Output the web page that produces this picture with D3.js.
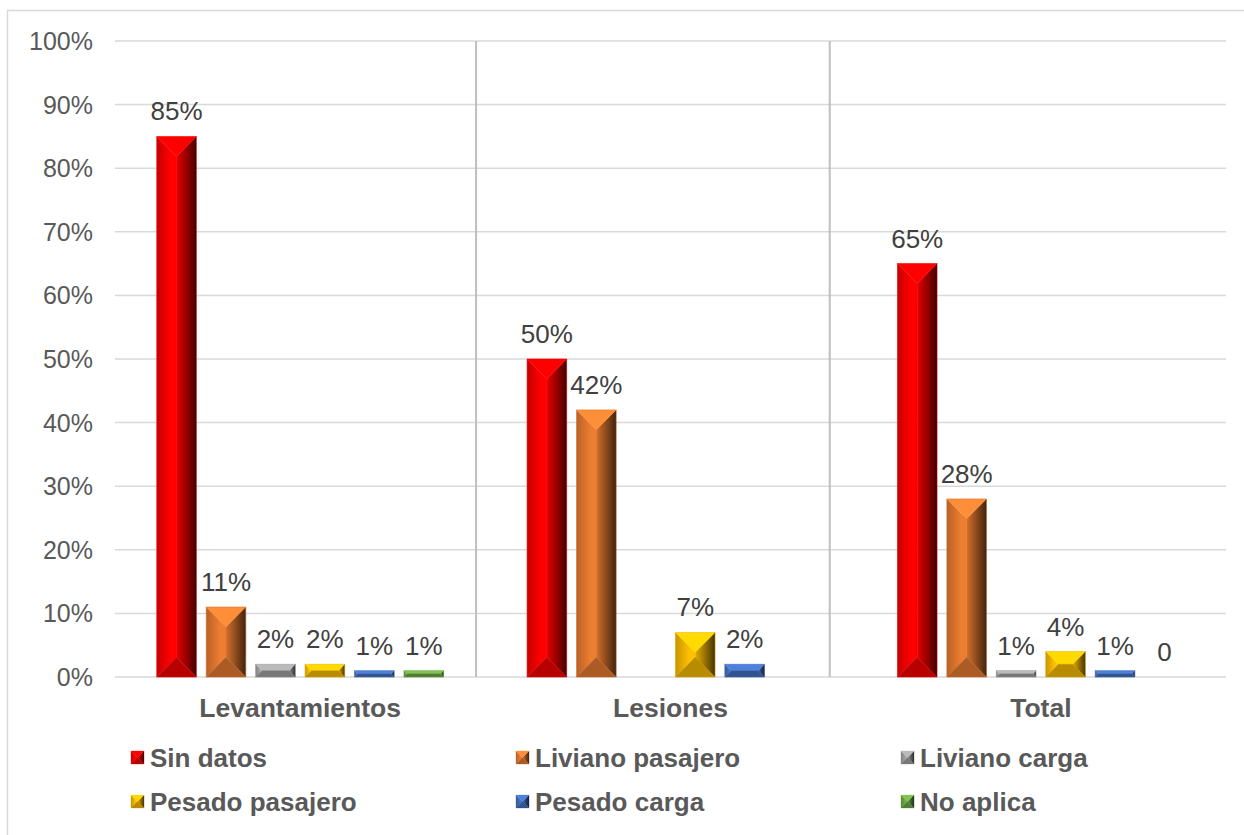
<!DOCTYPE html>
<meta charset="utf-8">
<style>
body { margin: 0; background: #fff; }
text { font-family: "Liberation Sans", Arial, sans-serif; }
</style>
<body>
<svg width="1244" height="835"></svg>
<script src="https://d3js.org/d3.v7.min.js"></script>
<script>

// data
var categories = ["Levantamientos", "Lesiones", "Total"];
var series = ["Sin datos", "Liviano pasajero", "Liviano carga", "Pesado pasajero", "Pesado carga", "No aplica"];
var colors = ["#ff0000", "#ed7d31", "#a5a5a5", "#ffc000", "#4472c4", "#70ad47"];
var levantamientos = [85, 11, 2, 2, 1, 1];
var lesiones = [50, 42, 0, 7, 2, 0];
var total = [65, 28, 1, 4, 1, 0];
var labelsLev = ["85%", "11%", "2%", "2%", "1%", "1%"];
var labelsLes = ["50%", "42%", null, "7%", "2%", null];
var labelsTot = ["65%", "28%", "1%", "4%", "1%", "0"];
var yTicks = [0, 10, 20, 30, 40, 50, 60, 70, 80, 90, 100];

var values = [levantamientos, lesiones, total];
var labels = [labelsLev, labelsLes, labelsTot];

var svg = d3.select("svg");
var defs = svg.append("defs");

// chart border
svg.append("rect")
    .attr("x", 7.5).attr("y", 10.5)
    .attr("width", 1260).attr("height", 850)
    .attr("fill", "none")
    .attr("stroke", "#d9d9d9")
    .attr("stroke-width", 1.5);

var x0 = d3.scaleBand().domain(categories).range([115, 1226]).padding(0);
var x1 = d3.scaleBand().domain(series).range([0, x0.bandwidth()])
    .paddingInner(0.2).paddingOuter(0.845);
var y = d3.scaleLinear().domain([0, 100]).range([677, 41]);

// gridlines
svg.append("g").selectAll("line")
  .data(yTicks)
  .enter().append("line")
    .attr("x1", 115).attr("x2", 1226)
    .attr("y1", function(d) { return y(d); })
    .attr("y2", function(d) { return y(d); })
    .attr("stroke", "#d9d9d9")
    .attr("stroke-width", 1.5);

// y labels
svg.append("g").selectAll("text")
  .data(yTicks)
  .enter().append("text")
    .attr("x", 93)
    .attr("y", function(d) { return y(d) + 9; })
    .attr("text-anchor", "end")
    .attr("font-size", "25px")
    .attr("fill", "#595959")
    .text(function(d) { return d + "%"; });

// vertical dividers (positions)
var xd = d3.scaleLinear().domain([0, 3]).range([115, 1226]);
svg.append("g").selectAll("line")
  .data([0.975, 1.93])
  .enter().append("line")
    .attr("x1", function(d) { return xd(d); })
    .attr("x2", function(d) { return xd(d); })
    .attr("y1", y(100)).attr("y2", y(0))
    .attr("stroke", "#bfbfbf")
    .attr("stroke-width", 2);

// gradients per series
colors.forEach(function(c, i) {
  var base = d3.color(c);
  var gl = defs.append("linearGradient").attr("id", "gl" + i)
      .attr("x1", 0).attr("x2", 1).attr("y1", 0).attr("y2", 0);
  gl.append("stop").attr("offset", "0%").attr("stop-color", base.darker(0.7));
  gl.append("stop").attr("offset", "70%").attr("stop-color", base);
  gl.append("stop").attr("offset", "100%").attr("stop-color", base);
  var gr = defs.append("linearGradient").attr("id", "gr" + i)
      .attr("x1", 0).attr("x2", 1).attr("y1", 0).attr("y2", 0);
  gr.append("stop").attr("offset", "0%").attr("stop-color", base.darker(0.3));
  gr.append("stop").attr("offset", "100%").attr("stop-color", base.darker(3.6));
});

function bevelBar(g, x, yTop, w, h, i, outline) {
  if (h <= 0) return;
  var base = d3.color(colors[i]);
  var b = Math.min(w / 2, h / 2);
  var x2 = x + w, yb = yTop + h;
  var faces = [
    // left
    { p: [[x, yTop], [x + b, yTop + b], [x + b, yb - b], [x, yb]], f: "url(#gl" + i + ")" },
    // right
    { p: [[x2, yTop], [x2 - b, yTop + b], [x2 - b, yb - b], [x2, yb]], f: "url(#gr" + i + ")" },
    // middle
    { p: [[x + b, yTop + b], [x2 - b, yTop + b], [x2 - b, yb - b], [x + b, yb - b]], f: base.toString() },
    // top
    { p: [[x, yTop], [x2, yTop], [x2 - b, yTop + b], [x + b, yTop + b]], f: base.brighter(0.35).toString() },
    // bottom
    { p: [[x, yb], [x2, yb], [x2 - b, yb - b], [x + b, yb - b]], f: base.darker(0.9).toString() }
  ];
  faces.forEach(function(fc) {
    g.append("polygon")
      .attr("points", fc.p.map(function(pt) { return pt.join(","); }).join(" "))
      .attr("fill", fc.f)
      .attr("stroke", fc.f)
      .attr("stroke-width", 0.3);
  });
  if (outline) {
    g.append("rect").attr("x", x).attr("y", yTop).attr("width", w).attr("height", h)
      .attr("fill", "none").attr("stroke", base.darker(0.3)).attr("stroke-width", 0.8).attr("stroke-opacity", 0.5);
  }
}

// bars
var bars = svg.append("g");
categories.forEach(function(cat, ci) {
  series.forEach(function(s, si) {
    var v = values[ci][si];
    var bx = x0(cat) + x1(s);
    bevelBar(bars, bx, y(v), x1.bandwidth(), y(0) - y(v), si, true);
    if (labels[ci][si] !== null) {
      bars.append("text")
        .attr("x", bx + x1.bandwidth() / 2)
        .attr("y", y(v) - 16)
        .attr("text-anchor", "middle")
        .attr("font-size", "26px")
        .attr("fill", "#404040")
        .text(labels[ci][si]);
    }
  });
});

// category labels
svg.append("g").selectAll("text")
  .data(categories)
  .enter().append("text")
    .attr("x", function(d) { return x0(d) + x0.bandwidth() / 2; })
    .attr("y", 717)
    .attr("text-anchor", "middle")
    .attr("font-size", "26.5px")
    .attr("font-weight", "bold")
    .attr("fill", "#595959")
    .text(function(d) { return d; });

// legend
var legend = svg.append("g");
series.forEach(function(s, i) {
  var lx = 131 + (i % 3) * 385;
  var ly = 758 + Math.floor(i / 3) * 44;
  bevelBar(legend, lx, ly - 7, 13, 13, i, false);
  legend.append("text")
    .attr("x", lx + 19)
    .attr("y", ly + 9)
    .attr("font-size", "26px")
    .attr("font-weight", "bold")
    .attr("fill", "#595959")
    .text(s);
});

</script>
</body>
